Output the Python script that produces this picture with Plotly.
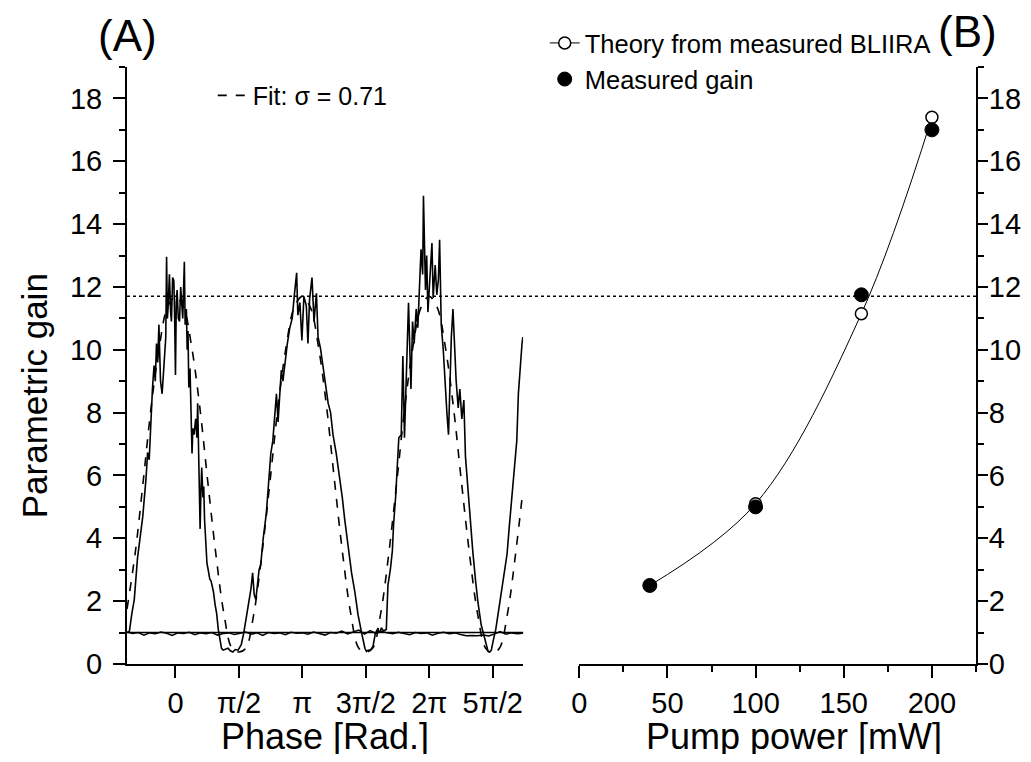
import plotly.graph_objects as go

# ---------------- data ----------------
# Panel A: measured parametric gain vs phase (rad)
phase_meas = [-1.19, -1.14, -1.08, -1.02, -0.94, -0.88, -0.81, -0.73, -0.69, -0.65, -0.61, -0.57, -0.53, -0.50, -0.47,
              -0.44, -0.41, -0.37, -0.33, -0.28, -0.24, -0.22, -0.20, -0.18, -0.15, -0.12, -0.10, -0.07, -0.04, -0.02,
              0.00, 0.02, 0.04, 0.07, 0.10, 0.13, 0.15, 0.18, 0.22, 0.24, 0.27, 0.29, 0.31, 0.33, 0.36, 0.38, 0.41,
              0.43, 0.46, 0.50, 0.53, 0.55, 0.57, 0.59, 0.61, 0.63, 0.65, 0.68, 0.70, 0.72, 0.75, 0.78, 0.81, 0.85,
              0.88, 0.94, 0.98, 1.02, 1.06, 1.10, 1.14, 1.18, 1.24, 1.30, 1.36, 1.42, 1.48, 1.55, 1.60, 1.63, 1.69,
              1.73, 1.77, 1.82, 1.87, 1.91, 1.95, 1.99, 2.04, 2.07, 2.11, 2.17, 2.25, 2.31, 2.36, 2.41, 2.46, 2.50,
              2.54, 2.58, 2.62, 2.66, 2.72, 2.77, 2.83, 2.89, 2.94, 3.00, 3.03, 3.08, 3.13, 3.18, 3.24, 3.28, 3.32,
              3.38, 3.43, 3.49, 3.53, 3.59, 3.65, 3.71, 3.78, 3.84, 3.90, 3.98, 4.07, 4.13, 4.19, 4.28, 4.36, 4.44,
              4.52, 4.61, 4.69, 4.73, 4.77, 4.83, 4.89, 4.95, 5.00, 5.05, 5.10, 5.15, 5.20, 5.22, 5.26, 5.32, 5.37,
              5.40, 5.45, 5.51, 5.53, 5.59, 5.63, 5.67, 5.71, 5.77, 5.83, 5.87, 5.91, 5.96, 6.00, 6.04, 6.08, 6.12,
              6.14, 6.19, 6.22, 6.25, 6.30, 6.35, 6.38, 6.43, 6.47, 6.51, 6.54, 6.58, 6.63, 6.68, 6.72, 6.76, 6.79,
              6.83, 6.87, 6.91, 6.95, 7.00, 7.04, 7.09, 7.14, 7.18, 7.25, 7.31, 7.36, 7.43, 7.49, 7.57, 7.66, 7.74,
              7.78, 7.82, 7.87, 7.93, 8.00, 8.08, 8.15, 8.21, 8.26, 8.33, 8.41, 8.45, 8.49, 8.54, 8.58, 8.60]
gain_meas = [1.0, 1.05, 1.6, 2.05, 3.37, 4.0, 4.69, 5.89, 6.73, 6.5, 7.8, 8.76, 9.5, 9.0, 10.2,
             9.6, 10.8, 9.0, 8.6, 9.5, 10.4, 12.96, 11.0, 11.4, 12.4, 11.2, 10.9, 12.3, 12.2, 11.0,
             9.2, 11.5, 11.9, 11.0, 10.9, 12.0, 11.5, 11.0, 12.8, 10.8, 11.3, 10.0, 10.6, 8.8, 9.4, 8.2, 6.7,
             7.5, 7.3, 7.8, 7.2, 8.3, 7.0, 5.6, 4.3, 5.5, 6.25, 5.3, 5.65, 4.6, 3.85, 3.2, 3.0, 2.7,
             2.65, 2.3, 1.9, 1.6, 1.1, 0.74, 0.5, 0.44, 0.48, 0.5, 0.42, 0.38, 0.46, 0.44, 0.55, 0.62, 0.98,
             1.3, 1.6, 2.0, 2.4, 2.9, 2.2, 2.05, 2.65, 3.0, 3.15, 3.97, 4.8, 5.9, 6.7, 7.1, 8.15, 8.6,
             7.7, 8.4, 9.35, 9.0, 9.7, 10.2, 10.7, 11.0, 11.7, 12.45, 11.1, 11.5, 10.3, 11.7, 11.4, 10.2, 11.6,
             12.3, 10.9, 11.8, 10.4, 10.05, 9.5, 9.0, 8.3, 8.0, 7.3, 6.7, 5.9, 5.3, 4.6, 3.6, 2.9, 2.3,
             1.57, 0.98, 0.5, 0.4, 0.44, 0.45, 0.56, 0.98, 1.1, 1.0, 1.15, 1.05, 1.1, 1.1, 2.5, 3.0, 3.6,
             4.45, 5.3, 6.5, 7.2, 7.3, 9.8, 7.2, 8.75, 11.5, 8.75, 10.9, 10.2, 11.3, 10.7, 11.9, 13.2, 12.4,
             14.9, 11.9, 13.0, 11.2, 12.25, 13.4, 11.65, 12.7, 11.75, 12.25, 13.5, 10.8, 10.0, 8.75, 8.0, 7.3, 8.75,
             10.4, 11.3, 10.2, 9.0, 8.15, 8.75, 7.8, 8.4, 6.6, 5.4, 4.2, 3.6, 2.65, 1.95, 1.24, 0.76, 0.4,
             0.38, 0.44, 0.76, 1.1, 1.7, 2.4, 3.0, 3.5, 4.3, 5.3, 6.6, 7.1, 8.6, 9.7, 10.2, 10.4]

# Panel A: fit curve (sigma = 0.71)
phase_fit = [-1.20, -1.00, -0.80, -0.60, -0.40, -0.20, 0.00, 0.20, 0.40, 0.60, 0.80, 1.00, 1.20, 1.40, 1.57,
             1.74, 1.94, 2.14, 2.34, 2.54, 2.74, 2.94, 3.14, 3.34, 3.54, 3.74, 3.94, 4.14, 4.34, 4.54, 4.71,
             4.88, 5.08, 5.28, 5.48, 5.68, 5.88, 6.08, 6.28, 6.48, 6.68, 6.88, 7.08, 7.28, 7.48, 7.68, 7.85,
             8.02, 8.22, 8.42, 8.60]
gain_fit = [1.75, 3.5, 5.8, 8.2, 10.1, 11.35, 11.7, 11.35, 10.1, 8.2, 5.8, 3.5, 1.6, 0.5, 0.38,
            0.5, 1.6, 3.5, 5.8, 8.2, 10.1, 11.35, 11.7, 11.35, 10.1, 8.2, 5.8, 3.5, 1.6, 0.5, 0.38,
            0.5, 1.6, 3.5, 5.8, 8.2, 10.1, 11.35, 11.7, 11.35, 10.1, 8.2, 5.8, 3.5, 1.6, 0.5, 0.35,
            0.5, 1.6, 3.5, 5.5]

# Panel A: pump-off baseline
phase_base = [-1.20, -1.06, -0.92, -0.78, -0.64, -0.50, -0.36, -0.22, -0.08, 0.06, 0.20, 0.34, 0.48, 0.62,
              0.76, 0.90, 1.04, 1.18, 1.32, 1.46, 1.60, 1.74, 1.88, 2.02, 2.16, 2.30, 2.44, 2.58, 2.72,
              2.86, 3.00, 3.14, 3.28, 3.42, 3.56, 3.70, 3.84, 3.98, 4.12, 4.26, 4.40, 4.54, 4.68, 4.82,
              4.96, 5.10, 5.24, 5.38, 5.52, 5.66, 5.80, 5.94, 6.08, 6.22, 6.36, 6.50, 6.64, 6.78, 6.92,
              7.06, 7.20, 7.34, 7.48, 7.62, 7.76, 7.90, 8.04, 8.18, 8.32, 8.46, 8.60]
gain_base = [1.02, 0.97, 1.00, 0.92, 0.99, 0.96, 1.02, 0.98, 0.91, 0.99, 0.97, 1.01, 0.93, 0.99,
             0.96, 1.00, 0.92, 0.97, 0.99, 0.94, 0.98, 1.02, 0.95, 0.99, 0.91, 1.00, 0.97, 0.99, 0.93,
             1.01, 0.98, 0.99, 0.95, 1.02, 0.97, 0.92, 1.00, 0.98, 1.05, 0.96, 1.02, 1.08, 0.95, 1.06,
             0.97, 1.04, 0.99, 0.96, 1.01, 0.98, 0.93, 1.00, 0.97, 0.99, 0.92, 0.98, 1.01, 0.96, 0.99,
             0.94, 0.90, 0.91, 0.90, 0.92, 0.89, 0.96, 1.03, 0.95, 0.99, 0.96, 0.98]

unity_level = 1.0
peak_level = 11.7

phase_tickvals = [0, 1.5708, 3.1416, 4.7124, 6.2832, 7.8540]
phase_ticktext = ["0", "π/2", "π", "3π/2", "2π", "5π/2"]

# Panel B
pump_power = [40, 100, 160, 200]
gain_theory = [2.5, 5.1, 11.15, 17.4]
gain_measured = [2.5, 5.0, 11.75, 17.0]

# ---------------- figure ----------------
FONT = "Liberation Sans, Arial, sans-serif"
fig = go.Figure()

fig.add_trace(go.Scatter(x=phase_fit, y=gain_fit, mode="lines", line=dict(color="black", width=1.6, dash="dash", shape="spline"),
                         name="Fit: σ = 0.71", legend="legend", xaxis="x", yaxis="y"))
fig.add_trace(go.Scatter(x=phase_base, y=gain_base, mode="lines", line=dict(color="black", width=1.5),
                         showlegend=False, xaxis="x", yaxis="y"))
fig.add_trace(go.Scatter(x=phase_meas, y=gain_meas, mode="lines", line=dict(color="black", width=1.6),
                         showlegend=False, xaxis="x", yaxis="y"))

fig.add_trace(go.Scatter(x=pump_power, y=gain_theory, mode="lines+markers",
                         line=dict(color="black", width=1, shape="spline"),
                         marker=dict(symbol="circle", size=12, color="white", line=dict(color="black", width=1.5)),
                         name="Theory from measured BLIIRA", legend="legend2", xaxis="x2", yaxis="y2"))
fig.add_trace(go.Scatter(x=pump_power, y=gain_measured, mode="markers",
                         marker=dict(symbol="circle", size=14, color="black", line=dict(color="black", width=1)),
                         name="Measured gain", legend="legend2", xaxis="x2", yaxis="y2"))

axis_common = dict(showline=True, linecolor="black", linewidth=2, ticks="outside", tickwidth=2,
                   tickcolor="black", showgrid=False, zeroline=False, automargin=False,
                   tickfont=dict(family=FONT, size=29, color="black"))
minor_ticks = dict(ticklen=6, tickwidth=2, tickcolor="black", ticks="outside")

xdom_a = [0, 0.4667]
xdom_b = [0.5327, 1]

# the page adds an 8 px body margin; the figure is sized so the page fits the window exactly
fig.update_layout(
    width=1015, height=746,
    margin=dict(l=118.5, r=47, t=59, b=90, autoexpand=False),
    paper_bgcolor="white", plot_bgcolor="white",
    font=dict(family=FONT, color="black"),
    xaxis=dict(domain=xdom_a, range=[-1.2, 8.61], tickvals=phase_tickvals, ticktext=phase_ticktext,
               anchor="y", ticklen=12, **axis_common),
    yaxis=dict(range=[0, 19], dtick=2, tick0=0, anchor="x", ticklen=12, ticklabelstandoff=5,
               minor=dict(dtick=1, **minor_ticks), **axis_common),
    xaxis2=dict(domain=xdom_b, range=[0, 225], dtick=50, tick0=0, anchor="y2", ticklen=12,
                minor=dict(dtick=25, **minor_ticks), **axis_common),
    yaxis2=dict(range=[0, 19], dtick=2, tick0=0, anchor="x2", side="right", ticklen=10, ticklabelstandoff=-5,
                minor=dict(dtick=1, **minor_ticks), **axis_common),
    legend=dict(x=0.101, y=0.952, xanchor="left", yanchor="middle", bgcolor="rgba(0,0,0,0)",
                font=dict(family=FONT, size=25, color="black")),
    legend2=dict(x=0.492, y=1.079, xanchor="left", yanchor="top", bgcolor="rgba(0,0,0,0)",
                 font=dict(family=FONT, size=25.5, color="black"), tracegroupgap=0),
    showlegend=True,
)

# horizontal reference lines
fig.add_shape(type="line", xref="paper", yref="y", x0=0, x1=1, y0=peak_level, y1=peak_level,
              line=dict(color="black", width=1.5, dash="dot"))
fig.add_shape(type="line", xref="x domain", yref="y", x0=0, x1=1, y0=unity_level, y1=unity_level,
              line=dict(color="black", width=1.5))

# titles and panel labels
fig.add_annotation(text="Parametric gain", xref="paper", yref="paper", x=-0.108, y=0.449, textangle=-90,
                   showarrow=False, font=dict(family=FONT, size=35, color="black"), xanchor="center", yanchor="middle")
fig.add_annotation(text="Phase [Rad.]", xref="paper", yref="paper", x=sum(xdom_a) / 2, y=-0.1214,
                   showarrow=False, font=dict(family=FONT, size=36, color="black"), xanchor="center", yanchor="middle")
fig.add_annotation(text="Pump power [mW]", xref="paper", yref="paper", x=0.786, y=-0.1214,
                   showarrow=False, font=dict(family=FONT, size=36, color="black"), xanchor="center", yanchor="middle")
fig.add_annotation(text="(A)", xref="paper", yref="paper", x=0.0, y=1.053,
                   showarrow=False, font=dict(family=FONT, size=44, color="black"), xanchor="center", yanchor="middle")
fig.add_annotation(text="(B)", xref="paper", yref="paper", x=0.99, y=1.06,
                   showarrow=False, font=dict(family=FONT, size=44, color="black"), xanchor="center", yanchor="middle")

fig.write_html("out.html")
